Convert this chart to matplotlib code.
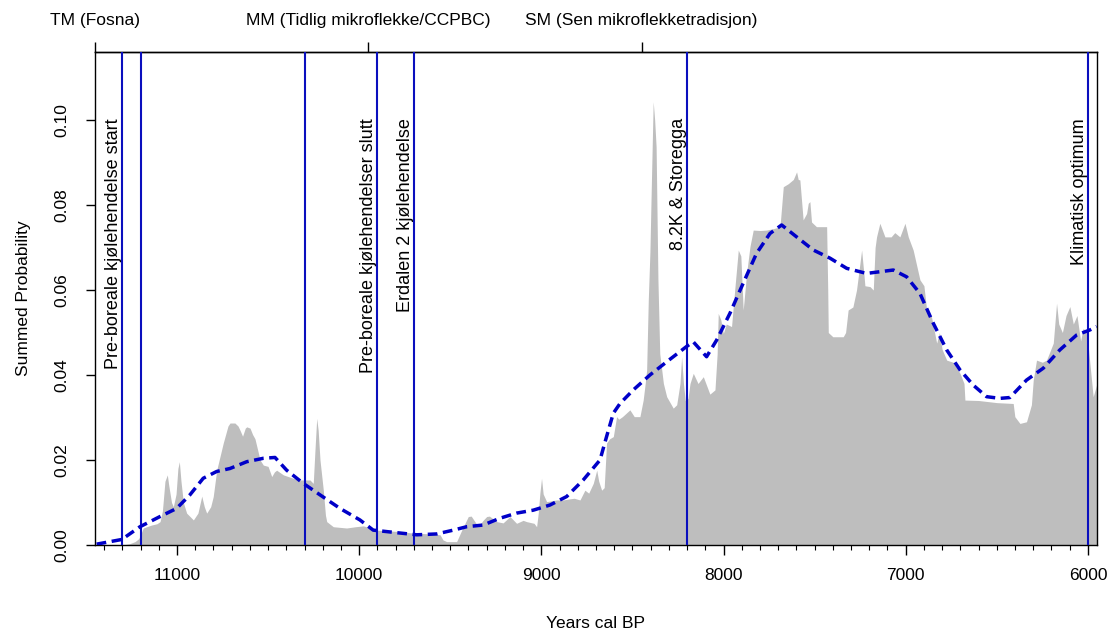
import matplotlib
matplotlib.use("Agg")
import matplotlib.pyplot as plt
import numpy as np

plt.rcParams['font.family'] = ['Liberation Sans', 'DejaVu Sans']

# ---- data ----
spd_years = [11450, 11300, 11260, 11230, 11210, 11200, 11185, 11166, 11139, 11110, 11093, 11080,
             11066, 11053, 11045, 11030, 11020, 11005, 10995, 10987, 10978, 10965, 10947, 10910,
             10885, 10864, 10850, 10837, 10815, 10801, 10782, 10760, 10746, 10720, 10709, 10682,
             10665, 10654, 10640, 10625, 10617, 10599, 10585, 10572, 10544, 10526, 10500, 10480,
             10465, 10453, 10416, 10362, 10325, 10270, 10252, 10243, 10233, 10225, 10215, 10197,
             10185, 10178, 10142, 10069, 10020, 9977, 9940, 9904, 9794, 9703, 9600, 9556, 9540,
             9520, 9465, 9437, 9401, 9385, 9346, 9320, 9300, 9285, 9245, 9210, 9172, 9136, 9100,
             9081, 9040, 9026, 9017, 9008, 8999, 8990, 8971, 8916, 8880, 8852, 8820, 8788, 8761,
             8740, 8715, 8696, 8685, 8669, 8655, 8642, 8625, 8605, 8587, 8575, 8555, 8514, 8490,
             8459, 8441, 8430, 8422, 8413, 8404, 8395, 8386, 8378, 8370, 8360, 8350, 8330, 8312,
             8276, 8257, 8239, 8230, 8220, 8210, 8195, 8184, 8166, 8140, 8111, 8075, 8047, 8035,
             8029, 8015, 8001, 7985, 7956, 7937, 7919, 7905, 7892, 7873, 7855, 7837, 7800, 7764,
             7720, 7690, 7672, 7645, 7617, 7599, 7590, 7581, 7563, 7544, 7535, 7526, 7517, 7490,
             7471, 7434, 7428, 7425, 7400, 7343, 7330, 7316, 7290, 7270, 7255, 7242, 7230, 7224,
             7196, 7178, 7168, 7160, 7142, 7114, 7080, 7060, 7032, 7004, 6986, 6959, 6922, 6900,
             6885, 6860, 6830, 6815, 6800, 6775, 6740, 6702, 6680, 6675, 6600, 6500, 6410, 6401,
             6373, 6337, 6310, 6300, 6282, 6250, 6227, 6190, 6172, 6160, 6140, 6120, 6099, 6080,
             6060, 6040, 6026, 6005, 5989, 5971, 5950]
spd_prob = [0.0, 0.0, 0.0003, 0.0008, 0.0015, 0.0024, 0.0040, 0.0043, 0.0047, 0.0050, 0.0055, 0.0080,
            0.0150, 0.0165, 0.0140, 0.0100, 0.0090, 0.0120, 0.0180, 0.0196, 0.0150, 0.0100, 0.0075, 0.0059,
            0.0075, 0.0115, 0.0090, 0.0075, 0.0090, 0.0114, 0.0176, 0.0215, 0.0240, 0.0280, 0.0287, 0.0287,
            0.0280, 0.0270, 0.0256, 0.0275, 0.0278, 0.0275, 0.0260, 0.0250, 0.0200, 0.0188, 0.0185, 0.0161,
            0.0172, 0.0176, 0.0165, 0.0157, 0.0153, 0.0153, 0.0145, 0.0220, 0.0298, 0.0270, 0.0200, 0.0130,
            0.0070, 0.0055, 0.0043, 0.0040, 0.0043, 0.0045, 0.0040, 0.0035, 0.0032, 0.0028, 0.0026, 0.0024, 0.0012,
            0.0008, 0.0008, 0.0035, 0.0067, 0.0068, 0.0043, 0.0058, 0.0067, 0.0068, 0.0055, 0.0052, 0.0067, 0.0051, 0.0058,
            0.0055, 0.0051, 0.0043, 0.0075, 0.0122, 0.0157, 0.0120, 0.0102, 0.0106, 0.0106, 0.0108, 0.0110, 0.0106, 0.0129,
            0.0122, 0.0145, 0.0176, 0.0150, 0.0129, 0.0135, 0.0240, 0.0250, 0.0255, 0.0302, 0.0296, 0.0302, 0.0318, 0.0302,
            0.0302, 0.0341, 0.0380, 0.0412, 0.0576, 0.0690, 0.0870, 0.1043, 0.1000, 0.0937, 0.0624, 0.0450, 0.0380, 0.0349,
            0.0322, 0.0330, 0.0380, 0.0443, 0.0380, 0.0340, 0.0345, 0.0380, 0.0404, 0.0380, 0.0396, 0.0355, 0.0365, 0.0450,
            0.0545, 0.0530, 0.0498, 0.0520, 0.0514, 0.0608, 0.0694, 0.0680, 0.0553, 0.0640, 0.0702, 0.0741, 0.0740, 0.0741,
            0.0745, 0.0749, 0.0843, 0.0850, 0.0860, 0.0878, 0.0860, 0.0859, 0.0765, 0.0780, 0.0804, 0.0808, 0.0760, 0.0749,
            0.0749, 0.0749, 0.0600, 0.0500, 0.0490, 0.0490, 0.0500, 0.0553, 0.0560, 0.0600, 0.0650, 0.0694, 0.0640, 0.0610,
            0.0608, 0.0600, 0.0700, 0.0725, 0.0757, 0.0725, 0.0725, 0.0735, 0.0725, 0.0757, 0.0725, 0.0694, 0.0624, 0.0610,
            0.0553, 0.0540, 0.0475, 0.0500, 0.0460, 0.0435, 0.0430, 0.0404, 0.0380, 0.0341, 0.0340, 0.0335, 0.0333, 0.0302,
            0.0286, 0.0290, 0.0330, 0.0388, 0.0435, 0.0430, 0.0435, 0.0475, 0.0569, 0.0520, 0.0500, 0.0540, 0.0561, 0.0520,
            0.0540, 0.0480, 0.0510, 0.0500, 0.0427, 0.0349, 0.0380]

smooth_years = [11441, 11303, 11203, 11093, 11002, 10929, 10856, 10782, 10709, 10617, 10526, 10462,
                10398, 10307, 10215, 10105, 9996, 9923, 9794, 9684, 9575, 9483, 9410, 9319, 9227,
                9136, 9044, 8953, 8861, 8770, 8678, 8642, 8605, 8568, 8495, 8404, 8312, 8203, 8166,
                8093, 8038, 7965, 7892, 7819, 7745, 7681, 7599, 7507, 7416, 7324, 7215, 7068, 6995,
                6922, 6849, 6775, 6702, 6629, 6556, 6483, 6428, 6337, 6245, 6154, 6062, 5989, 5952]
smooth_prob = [0.0002, 0.0013, 0.0043, 0.0067, 0.0086, 0.0118, 0.0157, 0.0173, 0.0180, 0.0196, 0.0204, 0.0206,
               0.0176, 0.0145, 0.0118, 0.0086, 0.0059, 0.0035, 0.0029, 0.0024, 0.0026, 0.0035, 0.0043, 0.0047, 0.0063,
               0.0075, 0.0082, 0.0094, 0.0114, 0.0153, 0.0200, 0.0255, 0.0310, 0.0333, 0.0365, 0.0400, 0.0431, 0.0467, 0.0478,
               0.0443, 0.0482, 0.0545, 0.0616, 0.0686, 0.0733, 0.0753, 0.0725, 0.0694, 0.0675, 0.0651, 0.0639, 0.0647, 0.0631,
               0.0592, 0.0522, 0.0459, 0.0412, 0.0376, 0.0349, 0.0345, 0.0347, 0.0388, 0.0416, 0.0459, 0.0494, 0.0506, 0.0514]

event_years = [11300, 11200, 10300, 9900, 9700, 8200, 6000]
event_labels = {11300: "Pre-boreale kjølehendelse start",
                9900: "Pre-boreale kjølehendelser slutt",
                9700: "Erdalen 2 kjølehendelse",
                8200: "8.2K & Storegga",
                6000: "Klimatisk optimum"}

period_ticks = [11450, 9950, 8450]
period_labels = ["TM (Fosna)", "MM (Tidlig mikroflekke/CCPBC)", "SM (Sen mikroflekketradisjon)"]

x_major = [11000, 10000, 9000, 8000, 7000, 6000]
y_ticks = [0.00, 0.02, 0.04, 0.06, 0.08, 0.10]

# ---- plot ----
FS = 12.5
fig = plt.figure(figsize=(11.09, 6.32), dpi=100)
ax = fig.add_axes([95/1109, 1-545/632, (1097-95)/1109, (545-52)/632])

ax.fill_between(spd_years, 0, spd_prob, color='#BEBEBE', lw=0, zorder=1)
for yr in event_years:
    ax.axvline(yr, color='#0A0FBE', lw=1.5, zorder=3)
ax.plot(smooth_years, smooth_prob, color='#0000C8', lw=2.5, linestyle=(0, (2.8, 1.6)), zorder=4)

for yr, lab in event_labels.items():
    ax.text(yr, 0.1005, lab, rotation=90, ha='right', va='top', fontsize=13.0, color='black', zorder=5)

ax.set_xlim(11450, 5950)
ax.set_ylim(0, 0.116)

ax.set_xticks(x_major)
ax.set_xticklabels([str(v) for v in x_major], fontsize=FS)
ax.set_xticks(np.arange(6000, 11500, 100), minor=True)
ax.tick_params(axis='x', which='major', direction='out', length=7.5, width=1, pad=9)
ax.tick_params(axis='x', which='minor', direction='out', length=3.6, width=0.8)
ax.set_yticks(y_ticks)
ax.set_yticklabels(["%.2f" % v for v in y_ticks], fontsize=FS, rotation=90, va='center')
ax.tick_params(axis='y', direction='out', length=6.5, width=1, pad=12)

ax.set_xlabel("Years cal BP", fontsize=FS, labelpad=24)
ax.set_ylabel("Summed Probability", fontsize=FS, labelpad=17)

for s in ax.spines.values():
    s.set_linewidth(1.0)
    s.set_color('black')

top = ax.secondary_xaxis('top')
top.set_xticks(period_ticks)
top.set_xticklabels(period_labels, fontsize=FS)
top.tick_params(axis='x', direction='out', length=7.5, width=1, pad=10)
top.spines['top'].set_linewidth(1.0)

fig.savefig("out.png", dpi=100)
